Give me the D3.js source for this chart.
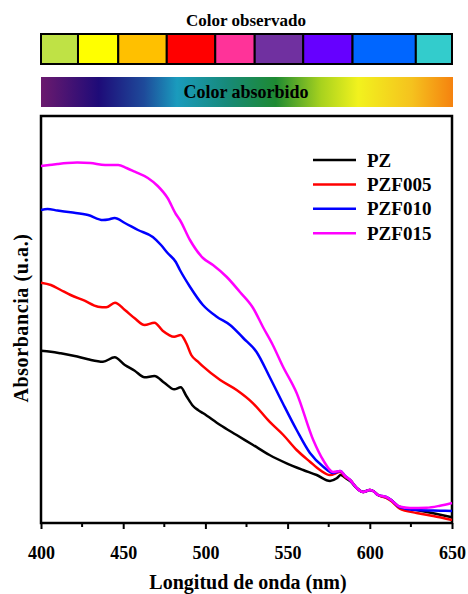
<!DOCTYPE html>
<html><head><meta charset="utf-8">
<script src="https://cdn.jsdelivr.net/npm/d3@7"></script>
<style>body{margin:0;background:#fff;} text{font-family:"Liberation Serif","Times New Roman",serif;font-weight:bold;}</style>
</head><body>
<svg id="c" width="468" height="594"></svg>
<script>
// ---- Data ----
const seriesNames = ["PZ","PZF005","PZF010","PZF015"];
const seriesColors = ["#000000","#ff0000","#0000ff","#ff00ff"];
const xTicks = [400,450,500,550,600,650];
const observedColors = ["#bfe245","#ffff00","#ffc000","#ff0000","#ff3399","#7030a0","#6600ff","#0066ff","#33cccc"];
const observedBounds = [400,422.5,447,476.5,506,530,559.5,589.5,628,650]; // in nm along bar
const absorbedStops = [
  [0,"#6b1a6e"],[0.14,"#1e0b78"],[0.25,"#1e4a9a"],[0.33,"#1a9bbd"],[0.45,"#178a7a"],
  [0.57,"#1e8a32"],[0.68,"#a8d21e"],[0.77,"#f2f21e"],[0.9,"#f5c21e"],[1,"#f5820f"]];

const PZ = [[400,1.723],[406,1.713],[412,1.697],[420.5,1.67],[428.6,1.637],[437.7,1.613],[444.8,1.657],[451,1.58],[457,1.523],[463,1.457],[469,1.47],[475,1.403],[481,1.337],[485,1.357],[488.4,1.27],[492.5,1.17],[495.5,1.13],[498.7,1.097],[509,0.98],[519,0.88],[529,0.78],[539,0.68],[549.4,0.597],[559.5,0.53],[567.7,0.48],[575.8,0.42],[579.9,0.447],[582.3,0.48],[586,0.44],[588,0.42],[592,0.35],[596,0.31],[600,0.33],[602,0.32],[605,0.28],[610,0.255],[613,0.23],[618,0.163],[628.5,0.13],[638.6,0.097],[650,0.057]];
const PZF005 = [[400,2.403],[406,2.38],[412,2.33],[418,2.28],[426.5,2.223],[434.7,2.163],[439.7,2.157],[445,2.203],[451,2.13],[457,2.047],[463,1.98],[469,2.003],[474,1.923],[481,1.863],[485,1.88],[488.4,1.797],[491.4,1.68],[495.5,1.613],[498.7,1.563],[509,1.43],[519,1.33],[529,1.197],[539,1.013],[547.4,0.88],[555.5,0.73],[563.6,0.613],[569.7,0.53],[575.8,0.48],[582,0.51],[585,0.46],[588,0.43],[592,0.35],[596,0.31],[600,0.33],[602,0.32],[605,0.28],[610,0.25],[613,0.22],[618,0.147],[628.5,0.10],[638.6,0.07],[650,0.03]];
const PZF010 = [[400,3.13],[404,3.14],[410,3.125],[418,3.107],[428.6,3.08],[437.7,3.03],[441,3.035],[444.8,3.05],[451,3.0],[459,2.93],[468,2.86],[473,2.78],[477,2.70],[482,2.61],[484.5,2.53],[490.6,2.363],[498.5,2.18],[506.9,2.063],[515,1.98],[523,1.85],[531,1.713],[539,1.463],[547,1.20],[555.5,0.93],[563.6,0.70],[571.7,0.563],[577.6,0.50],[582,0.52],[585,0.47],[588,0.43],[592,0.35],[596,0.31],[600,0.33],[602,0.32],[605,0.28],[610,0.26],[613,0.23],[618,0.16],[628.5,0.13],[642.7,0.123],[650,0.12]];
const PZF015 = [[400,3.57],[405,3.58],[410,3.59],[416,3.60],[422,3.605],[430,3.60],[439,3.58],[447,3.58],[452,3.55],[457,3.513],[465,3.45],[471,3.37],[477,3.25],[482,3.09],[484.5,3.03],[490.6,2.83],[498.5,2.65],[504.6,2.58],[513,2.46],[521,2.31],[529,2.15],[535,1.96],[541,1.78],[547,1.57],[555.5,1.30],[565.6,0.83],[571.6,0.63],[577.6,0.51],[582,0.52],[585,0.47],[588,0.43],[592,0.35],[596,0.31],[600,0.33],[602,0.32],[605,0.28],[610,0.26],[613,0.23],[618,0.165],[624.5,0.15],[634.6,0.153],[642.7,0.173],[650,0.20]];
const allSeries = [PZ, PZF005, PZF010, PZF015];

// ---- Layout ----
const svg = d3.select("#c");
const L = 41, R = 452, T = 116, B = 523;
const x = d3.scaleLinear().domain([400,650]).range([L,R]);
const y = d3.scaleLinear().domain([0,4.07]).range([B,T]);

// Observed colour bar
svg.append("text").attr("x",246).attr("y",26).attr("text-anchor","middle").attr("font-size",17).text("Color observado");
const obsG = svg.append("g");
observedColors.forEach((c,i)=>{
  obsG.append("rect").attr("x",x(observedBounds[i])).attr("y",34)
    .attr("width",x(observedBounds[i+1])-x(observedBounds[i])).attr("height",30)
    .attr("fill",c).attr("stroke","#000").attr("stroke-width",2);
});

// Absorbed gradient bar
const defs = svg.append("defs");
const grad = defs.append("linearGradient").attr("id","abs").attr("x1","0").attr("x2","1").attr("y1","0").attr("y2","0");
absorbedStops.forEach(s=>grad.append("stop").attr("offset",s[0]).attr("stop-color",s[1]));
svg.append("rect").attr("x",L).attr("y",77).attr("width",R+1-L).attr("height",30).attr("fill","url(#abs)");
svg.append("text").attr("x",246).attr("y",98).attr("text-anchor","middle").attr("font-size",18).text("Color absorbido");

// Frame
svg.append("rect").attr("x",L).attr("y",T).attr("width",R-L).attr("height",B-T)
  .attr("fill","none").attr("stroke","#000").attr("stroke-width",2.5);

// X axis
const xAxis = d3.axisBottom(x).tickValues(xTicks).tickSize(6).tickFormat(d3.format("d"));
const gx = svg.append("g").attr("transform",`translate(0,${B})`).call(xAxis);
gx.select(".domain").remove();
gx.selectAll(".tick line").attr("stroke","#000").attr("stroke-width",2);
gx.selectAll(".tick text").attr("font-size",18).attr("dy","1.5em").attr("fill","#000")
  .style("font-family","Liberation Serif").style("font-weight","bold");
const minor = d3.range(425,650,50);
svg.append("g").selectAll("line").data(minor).join("line")
  .attr("x1",d=>x(d)).attr("x2",d=>x(d)).attr("y1",B).attr("y2",B+4).attr("stroke","#000").attr("stroke-width",2);

svg.append("text").attr("x",248).attr("y",589).attr("text-anchor","middle").attr("font-size",20).text("Longitud de onda (nm)");
svg.append("text").attr("transform","translate(28,318) rotate(-90)").attr("text-anchor","middle").attr("font-size",20).attr("letter-spacing",0.6).text("Absorbancia (u.a.)");

// Lines
const line = d3.line().x(d=>x(d[0])).y(d=>y(d[1])).curve(d3.curveMonotoneX);
allSeries.forEach((s,i)=>{
  svg.append("path").datum(s).attr("d",line).attr("fill","none")
    .attr("stroke",seriesColors[i]).attr("stroke-width",2.5).attr("stroke-linejoin","round");
});

// Legend
const lg = svg.append("g");
seriesNames.forEach((n,i)=>{
  const yy = 160 + i*24.4;
  lg.append("line").attr("x1",313).attr("x2",356).attr("y1",yy).attr("y2",yy).attr("stroke",seriesColors[i]).attr("stroke-width",2.5);
  lg.append("text").attr("x",367).attr("y",yy+6.5).attr("font-size",19).text(n);
});
</script>
</body></html>
